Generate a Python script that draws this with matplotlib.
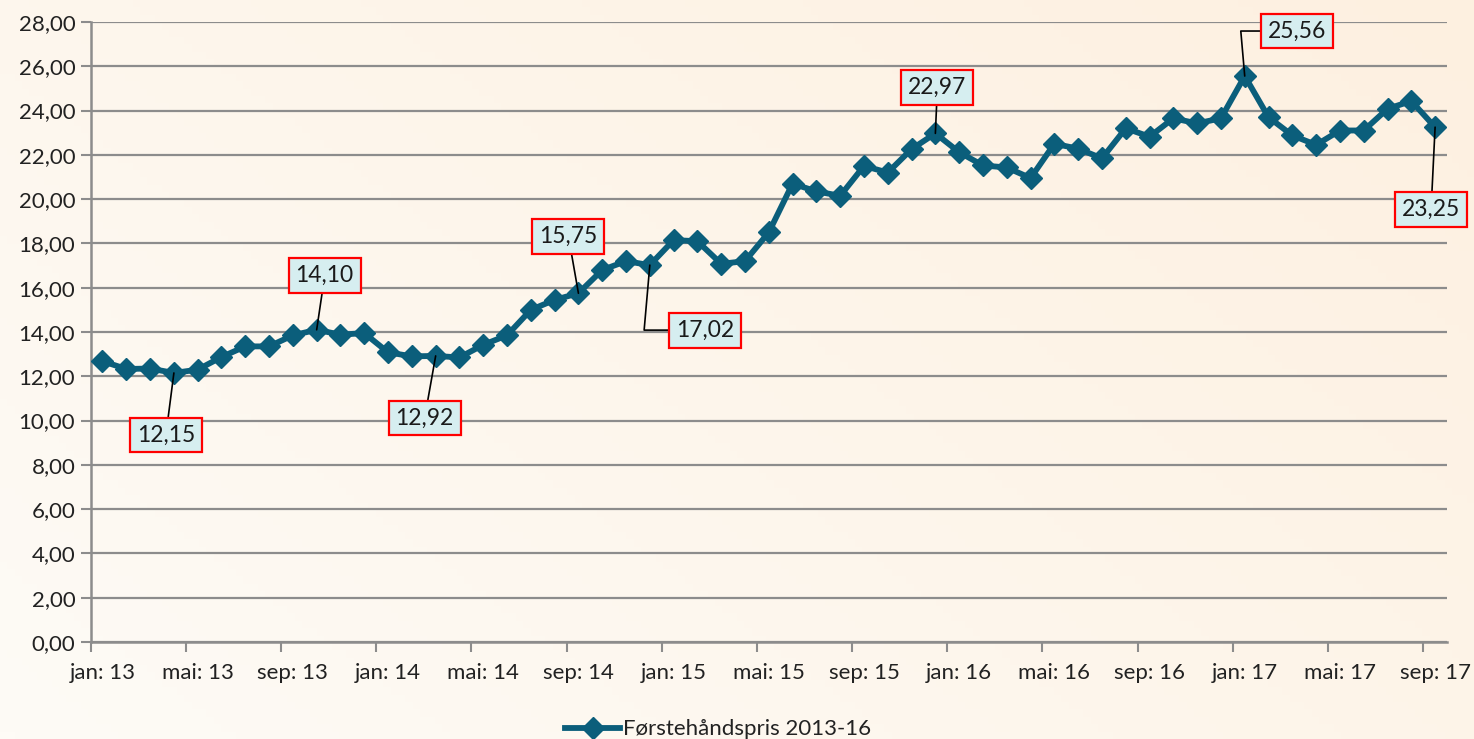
import matplotlib
matplotlib.use("Agg")
import matplotlib.pyplot as plt
import numpy as np
from matplotlib.colors import LinearSegmentedColormap

# ---- data ----
months = ["jan", "feb", "mar", "apr", "mai", "jun", "jul", "aug", "sep", "okt", "nov", "des"]
years = [13, 14, 15, 16, 17]
categories = [f"{m}: {y}" for y in years for m in months][:57]  # jan:13 .. sep:17

prices = [12.68, 12.33, 12.35, 12.15, 12.30, 12.87, 13.35, 13.35, 13.85, 14.10,
          13.88, 13.95, 13.08, 12.90, 12.92, 12.85, 13.42, 13.85, 15.00, 15.45,
          15.75, 16.80, 17.20, 17.02, 18.15, 18.10, 17.08, 17.20, 18.50, 20.70,
          20.35, 20.15, 21.50, 21.20, 22.26, 22.97, 22.12, 21.52, 21.43, 20.95,
          22.50, 22.28, 21.84, 23.20, 22.82, 23.65, 23.42, 23.65, 25.56, 23.70,
          22.88, 22.45, 23.10, 23.10, 24.08, 24.43, 23.25]

series_name = "Førstehåndspris 2013-16"

# annotated points: index in series
label_idx = [3, 9, 14, 20, 23, 35, 48, 56]

y_ticks = list(range(0, 29, 2))

# ---- styling ----
FONT = "Lato"
plt.rcParams['font.family'] = [FONT, 'DejaVu Sans']
LINE_C = "#0b5e7b"
GRID_C = "#8c8c8c"

fig = plt.figure(figsize=(14.74, 7.39), dpi=100)

# background gradient
bg = fig.add_axes([0, 0, 1, 1], zorder=-10)
gx, gy = np.meshgrid(np.linspace(0, 1, 200), np.linspace(0, 1, 100))
grad = (gx * 0.6 + (1 - gy) * 0.4)
cmap = LinearSegmentedColormap.from_list("bg", ["#fefbf6", "#fdf0e0"])
bg.imshow(grad, cmap=cmap, aspect='auto', extent=[0, 1, 0, 1], origin='upper')
bg.axis('off')

ax = fig.add_axes([90.6 / 1474, 1 - 642 / 739, (1447 - 90.6) / 1474, 620 / 739])
ax.set_facecolor('none')

x = np.arange(len(prices))
ax.plot(x, prices, color=LINE_C, lw=4.2, marker='D', markersize=11,
        markerfacecolor=LINE_C, markeredgecolor=LINE_C, label=series_name,
        zorder=5, solid_joinstyle='round')

ax.set_xlim(-0.5, len(prices) - 0.5)
ax.set_ylim(0, 28)

# y axis
ax.set_yticks(y_ticks)
ax.set_yticklabels([f"{v:.2f}".replace('.', ',') for v in y_ticks],
                   fontsize=16, color='#222222')
ax.yaxis.grid(True, color=GRID_C, lw=1.6)
ax.set_axisbelow(True)
ax.tick_params(axis='y', length=7, width=1.5, color=GRID_C, pad=4)

# x axis: tick marks between categories, labels at categories
major = np.arange(-0.5, len(prices) - 0.5 + 0.01, 4)
ax.set_xticks(major)
ax.set_xticklabels([])
lab_pos = np.arange(0, len(prices), 4)
ax.set_xticks(lab_pos, minor=True)
ax.set_xticklabels([categories[i] for i in lab_pos], minor=True,
                   fontsize=16, color='#222222')
ax.tick_params(axis='x', which='major', length=7, width=1.5, color=GRID_C,
               direction='out')
ax.tick_params(axis='x', which='minor', length=0, pad=15)

for s in ['top', 'right']:
    ax.spines[s].set_visible(False)
for s in ['left', 'bottom']:
    ax.spines[s].set_color(GRID_C)
    ax.spines[s].set_linewidth(1.8)

# annotations
offsets = {3: (-8, -62), 9: (8, 54), 14: (-11, -62), 20: (-10, 57),
           23: (55, -65), 35: (2, 46), 48: (52, 45), 56: (-4, -82)}
elbow = {23: "angle,angleA=0,angleB=85,rad=0",
         48: "angle,angleA=0,angleB=95,rad=0"}
for i in label_idx:
    v = prices[i]
    txt = f"{v:.2f}".replace('.', ',')
    ax.annotate(txt, xy=(i, v), xytext=offsets[i], textcoords='offset pixels',
                ha='center', va='center', fontsize=16.5, color='#1a1a1a', zorder=10,
                bbox=dict(boxstyle='square,pad=0.3', fc='#d6eef0', ec='#ff0000', lw=1.6),
                arrowprops=dict(arrowstyle='-', color='black', lw=1.2,
                                shrinkA=0, shrinkB=0,
                                connectionstyle=elbow.get(i, "arc3")))

leg = fig.legend(loc='center', bbox_to_anchor=(0.487, 0.013), frameon=False,
                 fontsize=16, handlelength=2.5, handletextpad=0.1)
for t in leg.get_texts():
    t.set_color('#222222')

fig.savefig("out.png", dpi=100)
